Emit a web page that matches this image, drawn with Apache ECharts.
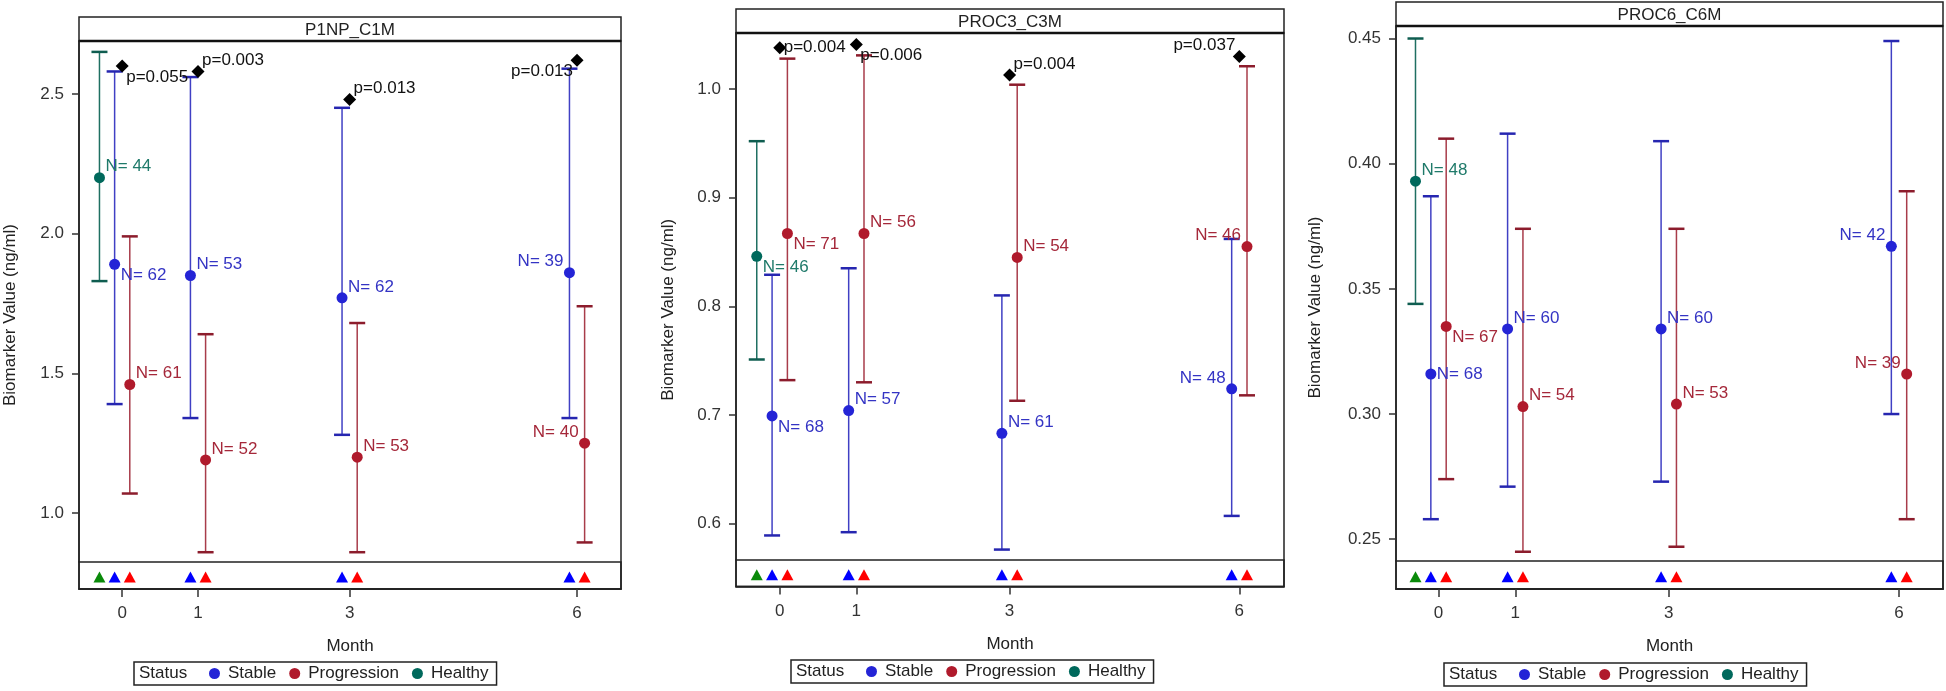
<!DOCTYPE html>
<html><head><meta charset="utf-8">
<script src="https://cdn.jsdelivr.net/npm/echarts@6/dist/echarts.min.js"></script>
<style>html,body{margin:0;padding:0;background:#fff}#c{width:1946px;height:691px}</style>
</head><body><div id="c"></div>
<script>
// ---------------- DATA ----------------
const months = [0, 1, 3, 6];
const healthyMonths = [0];
const statusNames = ['Stable', 'Progression', 'Healthy'];
const yAxisTitle = 'Biomarker Value (ng/ml)';
const xAxisTitle = 'Month';
const legendTitle = 'Status';

// Panel 1: P1NP_C1M
const p1Title = 'P1NP_C1M';
const p1Ticks = [1.0, 1.5, 2.0, 2.5];
const p1StableMean = [1.89, 1.85, 1.77, 1.86];
const p1StableLow  = [1.39, 1.34, 1.28, 1.34];
const p1StableHigh = [2.58, 2.56, 2.45, 2.59];
const p1StableN    = [62, 53, 62, 39];
const p1ProgMean = [1.46, 1.19, 1.20, 1.25];
const p1ProgLow  = [1.07, 0.86, 0.86, 0.895];
const p1ProgHigh = [1.99, 1.64, 1.68, 1.74];
const p1ProgN    = [61, 52, 53, 40];
const p1HealthyMean = [2.20];
const p1HealthyLow  = [1.83];
const p1HealthyHigh = [2.65];
const p1HealthyN    = [44];
const p1PText = ['0.055', '0.003', '0.013', '0.013'];
const p1PY    = [2.60, 2.58, 2.48, 2.62];

// Panel 2: PROC3_C3M
const p2Title = 'PROC3_C3M';
const p2Ticks = [0.6, 0.7, 0.8, 0.9, 1.0];
const p2StableMean = [0.699, 0.704, 0.683, 0.724];
const p2StableLow  = [0.589, 0.592, 0.576, 0.607];
const p2StableHigh = [0.829, 0.835, 0.810, 0.862];
const p2StableN    = [68, 57, 61, 48];
const p2ProgMean = [0.867, 0.867, 0.845, 0.855];
const p2ProgLow  = [0.732, 0.730, 0.713, 0.718];
const p2ProgHigh = [1.028, 1.031, 1.004, 1.021];
const p2ProgN    = [71, 56, 54, 46];
const p2HealthyMean = [0.846];
const p2HealthyLow  = [0.751];
const p2HealthyHigh = [0.952];
const p2HealthyN    = [46];
const p2PText = ['0.004', '0.006', '0.004', '0.037'];
const p2PY    = [1.038, 1.041, 1.013, 1.030];

// Panel 3: PROC6_C6M
const p3Title = 'PROC6_C6M';
const p3Ticks = [0.25, 0.30, 0.35, 0.40, 0.45];
const p3StableMean = [0.316, 0.334, 0.334, 0.367];
const p3StableLow  = [0.258, 0.271, 0.273, 0.300];
const p3StableHigh = [0.387, 0.412, 0.409, 0.449];
const p3StableN    = [68, 60, 60, 42];
const p3ProgMean = [0.335, 0.303, 0.304, 0.316];
const p3ProgLow  = [0.274, 0.245, 0.247, 0.258];
const p3ProgHigh = [0.410, 0.374, 0.374, 0.389];
const p3ProgN    = [67, 54, 53, 39];
const p3HealthyMean = [0.393];
const p3HealthyLow  = [0.344];
const p3HealthyHigh = [0.450];
const p3HealthyN    = [48];
const p3PText = [];
const p3PY    = [];

// ---------------- STYLE / LAYOUT ----------------
const FONT = '"Liberation Sans", Arial, sans-serif';
const FS = 17;
const colors = {
  Stable:      { dot: '#2424d6', line: '#4040c4', cap: '#2626b0', text: '#3434c4', tri: '#0000ff', off: -0.1 },
  Progression: { dot: '#b01a2c', line: '#a83c4a', cap: '#8c1c2c', text: '#a5283a', tri: '#ff0000', off: 0.1 },
  Healthy:     { dot: '#00695c', line: '#1f6f62', cap: '#0f5d50', text: '#1f7a6a', tri: '#0a8a0a', off: -0.3 }
};

const panels = [
  { title: p1Title, ticks: p1Ticks, dec: 1,
    Stable: { x: months, mean: p1StableMean, low: p1StableLow, high: p1StableHigh, n: p1StableN },
    Progression: { x: months, mean: p1ProgMean, low: p1ProgLow, high: p1ProgHigh, n: p1ProgN },
    Healthy: { x: healthyMonths, mean: p1HealthyMean, low: p1HealthyLow, high: p1HealthyHigh, n: p1HealthyN },
    pText: p1PText, pY: p1PY },
  { title: p2Title, ticks: p2Ticks, dec: 1,
    Stable: { x: months, mean: p2StableMean, low: p2StableLow, high: p2StableHigh, n: p2StableN },
    Progression: { x: months, mean: p2ProgMean, low: p2ProgLow, high: p2ProgHigh, n: p2ProgN },
    Healthy: { x: healthyMonths, mean: p2HealthyMean, low: p2HealthyLow, high: p2HealthyHigh, n: p2HealthyN },
    pText: p2PText, pY: p2PY },
  { title: p3Title, ticks: p3Ticks, dec: 2,
    Stable: { x: months, mean: p3StableMean, low: p3StableLow, high: p3StableHigh, n: p3StableN },
    Progression: { x: months, mean: p3ProgMean, low: p3ProgLow, high: p3ProgHigh, n: p3ProgN },
    Healthy: { x: healthyMonths, mean: p3HealthyMean, low: p3HealthyLow, high: p3HealthyHigh, n: p3HealthyN },
    pText: p3PText, pY: p3PY }
];

const layouts = [
  { left: 79, right: 621, titleTop: 17, top: 41, plotBottom: 562, stripBottom: 589,
    yMin: 0.825, yMax: 2.689, xMin: -0.57, xMax: 6.58, nameGap: 60, legendLeft: 134, legendTop: 662,
    lbl: { Stable: ['rb', 'ra', 'ra', 'la'], Progression: ['ra', 'ra', 'ra', 'la'], Healthy: ['ra'] },
    pLbl: ['rb', 'ra', 'ra', 'lb'] },
  { left: 736, right: 1284, titleTop: 9, top: 33, plotBottom: 560, stripBottom: 586.5,
    yMin: 0.5664, yMax: 1.0516, xMin: -0.571, xMax: 6.583, nameGap: 59, legendLeft: 791, legendTop: 660,
    lbl: { Stable: ['rb', 'ra', 'ra', 'la'], Progression: ['rb', 'ra', 'ra', 'la'], Healthy: ['rb'] },
    pLbl: ['r', 'rb', 'ra', 'la'] },
  { left: 1396, right: 1943, titleTop: 2, top: 26, plotBottom: 561, stripBottom: 589,
    yMin: 0.2413, yMax: 0.455, xMin: -0.554, xMax: 6.573, nameGap: 72, legendLeft: 1444, legendTop: 663,
    lbl: { Stable: ['r', 'ra', 'ra', 'la'], Progression: ['rb', 'ra', 'ra', 'la'], Healthy: ['ra'] },
    pLbl: [] }
];

function lbl(code, color, dist) {
  const left = code[0] === 'l';
  const dy = code[1] === 'a' ? -11 : code[1] === 'b' ? 11 : 0;
  return { show: true, position: left ? 'left' : 'right', distance: dist, offset: [0, dy],
           color: color, fontSize: FS, fontFamily: FONT };
}

const grid = [], xAxis = [], yAxis = [], series = [], legend = [], graphic = [];

panels.forEach((P, i) => {
  const L = layouts[i];
  const gFrame = grid.length, gPlot = gFrame + 1, gStrip = gFrame + 2;
  grid.push({ left: L.left, width: L.right - L.left, top: L.top, height: L.stripBottom - L.top,
              show: true, borderColor: '#222', borderWidth: 1.5, backgroundColor: 'transparent' });
  grid.push({ left: L.left, width: L.right - L.left, top: L.top, height: L.plotBottom - L.top, show: false });
  grid.push({ left: L.left, width: L.right - L.left, top: L.plotBottom, height: L.stripBottom - L.plotBottom,
              show: true, borderColor: '#222', borderWidth: 1.5, backgroundColor: 'transparent' });

  // frame axes (only y name)
  xAxis.push({ gridIndex: gFrame, type: 'value', show: false, min: 0, max: 1 });
  yAxis.push({ gridIndex: gFrame, type: 'value', min: 0, max: 1,
    axisLine: { show: false, onZero: false }, axisTick: { show: false }, axisLabel: { show: false }, splitLine: { show: false },
    name: yAxisTitle, nameLocation: 'middle', nameGap: L.nameGap,
    nameTextStyle: { fontSize: FS, fontFamily: FONT, color: '#222' } });
  // plot axes
  xAxis.push({ gridIndex: gPlot, type: 'value', show: false, min: L.xMin, max: L.xMax });
  yAxis.push({ gridIndex: gPlot, type: 'value', min: L.yMin, max: L.yMax,
    axisLine: { show: true, onZero: false, lineStyle: { color: '#222', width: 1.5 } },
    axisTick: { show: true, length: 7, customValues: P.ticks, lineStyle: { color: '#333', width: 1.5 } },
    axisLabel: { show: true, customValues: P.ticks, margin: 15, fontSize: FS, fontFamily: FONT, color: '#333',
                 formatter: v => Number(v).toFixed(P.dec) },
    splitLine: { show: false } });
  // strip axes
  xAxis.push({ gridIndex: gStrip, type: 'value', min: L.xMin, max: L.xMax,
    axisLine: { show: true, onZero: false, lineStyle: { color: '#222', width: 1.5 } },
    axisTick: { show: true, length: 8, customValues: months, lineStyle: { color: '#333', width: 1.5 } },
    axisLabel: { show: true, customValues: months, margin: 16, fontSize: FS, fontFamily: FONT, color: '#333' },
    splitLine: { show: false },
    name: xAxisTitle, nameLocation: 'middle', nameGap: 49,
    nameTextStyle: { fontSize: FS, fontFamily: FONT, color: '#222' } });
  yAxis.push({ gridIndex: gStrip, type: 'value', show: false, min: 0, max: 1 });

  // error bars, means, triangles
  ['Healthy', 'Stable', 'Progression'].forEach(st => {
    const D = P[st], C = colors[st];
    series.push({
      type: 'custom', xAxisIndex: gPlot, yAxisIndex: gPlot, z: 2, silent: true,
      data: D.x.map((m, k) => [m + C.off, D.low[k], D.high[k]]),
      renderItem: (params, api) => {
        const x = api.value(0);
        const lo = api.coord([x, api.value(1)]);
        const hi = api.coord([x, api.value(2)]);
        const hw = 8;
        return { type: 'group', children: [
          { type: 'line', shape: { x1: lo[0], y1: lo[1], x2: hi[0], y2: hi[1] }, style: { stroke: C.line, lineWidth: 1.5 } },
          { type: 'line', shape: { x1: hi[0] - hw, y1: hi[1], x2: hi[0] + hw, y2: hi[1] }, style: { stroke: C.cap, lineWidth: 2.5 } },
          { type: 'line', shape: { x1: lo[0] - hw, y1: lo[1], x2: lo[0] + hw, y2: lo[1] }, style: { stroke: C.cap, lineWidth: 2.5 } }
        ] };
      }
    });
    series.push({
      name: st, type: 'scatter', xAxisIndex: gPlot, yAxisIndex: gPlot, z: 4,
      symbol: 'circle', symbolSize: 11, itemStyle: { color: C.dot, opacity: 1 },
      data: D.x.map((m, k) => ({ value: [m + C.off, D.mean[k], D.n[k]],
                                 label: lbl(L.lbl[st][k], C.text, 0.5) })),
      label: { show: true, formatter: p => 'N= ' + p.value[2] }
    });
    series.push({
      name: 'tri-' + st, type: 'scatter', xAxisIndex: gStrip, yAxisIndex: gStrip, z: 4,
      symbol: 'triangle', symbolSize: [12, 11], itemStyle: { color: C.tri, opacity: 1 },
      data: D.x.map(m => [m + C.off, 0.44])
    });
  });
  if (P.pText.length) {
    series.push({
      name: 'pvalue', type: 'scatter', xAxisIndex: gPlot, yAxisIndex: gPlot, z: 5,
      symbol: 'diamond', symbolSize: 13, itemStyle: { color: '#000', opacity: 1 },
      data: months.map((m, k) => ({ value: [m, P.pY[k], P.pText[k]],
                                    label: lbl(L.pLbl[k], '#111', -2.5) })),
      label: { show: true, formatter: p => 'p=' + p.value[2] }
    });
  }

  legend.push({
    data: statusNames, left: L.legendLeft, top: L.legendTop, orient: 'horizontal',
    icon: 'circle', itemWidth: 11, itemHeight: 11, itemGap: 13,
    padding: [3, 8, 3, 75], borderColor: '#222', borderWidth: 1.5, selectedMode: false,
    textStyle: { fontSize: FS, fontFamily: FONT, color: '#222', padding: [0, 0, 0, 3] }
  });
  graphic.push({ type: 'text', left: L.legendLeft + 5, top: L.legendTop + 3,
    style: { text: legendTitle, fontSize: FS, fontFamily: FONT, fill: '#222' } });

  // title box
  graphic.push({ type: 'rect', shape: { x: L.left, y: L.titleTop, width: L.right - L.left, height: L.top - L.titleTop },
    style: { fill: '#fff', stroke: '#222', lineWidth: 1.5 } });
  graphic.push({ type: 'line', shape: { x1: L.left, y1: L.top, x2: L.right, y2: L.top },
    style: { stroke: '#111', lineWidth: 2.5 } });
  graphic.push({ type: 'text', x: (L.left + L.right) / 2, y: (L.titleTop + L.top) / 2 + 1,
    style: { text: P.title, fontSize: FS, fontFamily: FONT, fill: '#222', align: 'center', verticalAlign: 'middle' } });
});

const chart = echarts.init(document.getElementById('c'), null, { renderer: 'canvas' });
chart.setOption({ animation: false, backgroundColor: '#fff', grid, xAxis, yAxis, series, legend, graphic });
</script></body></html>
